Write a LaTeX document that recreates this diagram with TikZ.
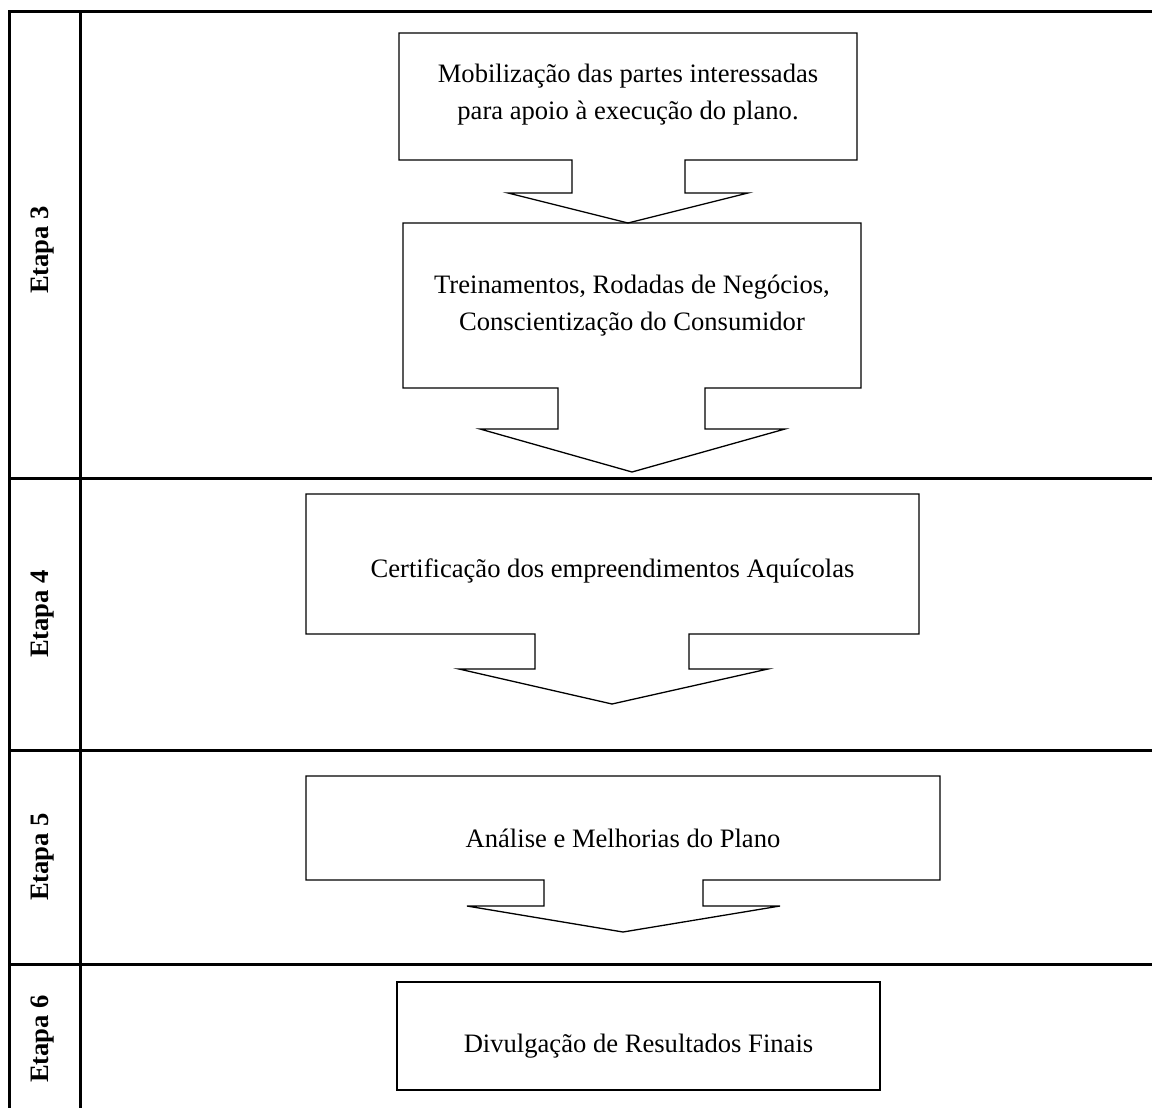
\documentclass[tikz,border=0pt]{standalone}
\usepackage{fontspec}
\setmainfont{Liberation Serif}
\begin{document}
\begin{tikzpicture}[x=0.5pt,y=-0.5pt,
  grid/.style={line width=1.5pt,black},
  outline/.style={line width=0.65pt,black,line join=miter},
  txt/.style={inner sep=0pt,align=center,font={\fontsize{13.3}{18.5}\selectfont}},
  etapa/.style={inner sep=0pt,rotate=90,anchor=base,font={\fontsize{13.3}{16}\selectfont\bfseries}}]
\useasboundingbox (0,0) rectangle (1152,1108);
% table
\draw[grid] (9,1108) -- (9,11) -- (1152,11);
\draw[grid] (80,11) -- (80,1108);
\draw[grid] (9,478) -- (1152,478);
\draw[grid] (9,750) -- (1152,750);
\draw[grid] (9,964) -- (1152,964);
% stage labels
\node[etapa] (e3) at (48,250) {Etapa 3};
\node[etapa] (e4) at (48,614) {Etapa 4};
\node[etapa] (e5) at (48,857) {Etapa 5};
\node[etapa] (e6) at (48,1039) {Etapa 6};
% shape 1
\draw[outline] (399,33) -- (857,33) -- (857,160) -- (685,160) -- (685,193) -- (748,193)
  -- (628,223) -- (508,193) -- (572,193) -- (572,160) -- (399,160) -- cycle;
\node[txt] (t1) at (628,95) {Mobilização das partes interessadas\\para apoio à execução do plano.};
% shape 2
\draw[outline] (403,223) -- (861,223) -- (861,388) -- (705,388) -- (705,429) -- (785,429)
  -- (632,472) -- (480,429) -- (558,429) -- (558,388) -- (403,388) -- cycle;
\node[txt] (t2) at (632,306) {Treinamentos, Rodadas de Negócios,\\Conscientização do Consumidor};
% shape 3
\draw[outline] (306,494) -- (919,494) -- (919,634) -- (689,634) -- (689,669) -- (768,669)
  -- (612,704) -- (459,669) -- (535,669) -- (535,634) -- (306,634) -- cycle;
\node[txt,anchor=base] (t3) at (612.5,577) {Certificação dos empreendimentos Aquícolas};
% shape 4
\draw[outline] (306,776) -- (940,776) -- (940,880) -- (703,880) -- (703,906) -- (780,906)
  -- (623,932) -- (467,906) -- (544,906) -- (544,880) -- (306,880) -- cycle;
\node[txt,anchor=base] (t4) at (623,847) {Análise e Melhorias do Plano};
% shape 5
\draw[outline] (397,982) rectangle (880,1090);
\node[txt,anchor=base] (t5) at (638.5,1052) {Divulgação de Resultados Finais};
\end{tikzpicture}
\end{document}
